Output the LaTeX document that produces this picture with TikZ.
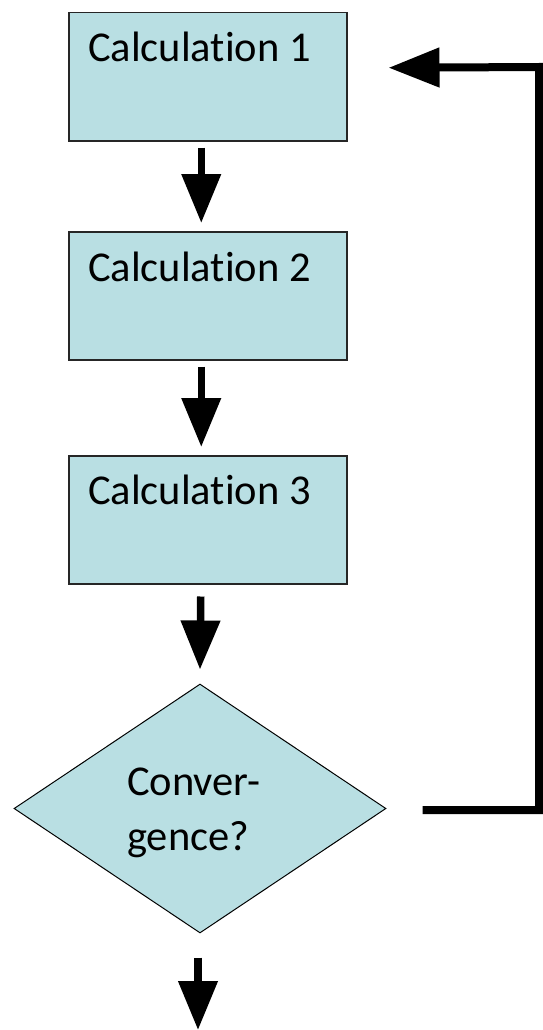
\documentclass[tikz,border=0pt]{standalone}
\usepackage{fontspec}
\setmainfont{Carlito}[Ligatures={NoCommon}]
\usetikzlibrary{shapes.geometric,arrows.meta}
\definecolor{boxfill}{HTML}{B9DFE3}
\begin{document}
\begin{tikzpicture}[x=1pt,y=-1pt,
  calcbox/.style={draw=black!85,line width=1.5pt,fill=boxfill,minimum width=278pt,minimum height=128pt,inner sep=0pt,anchor=north west},
  decide/.style={draw=black,line width=1pt,fill=boxfill,diamond,minimum width=372pt,minimum height=249pt,inner sep=0pt,aspect=1.49},
  lbl/.style={anchor=base west,inner sep=0pt,font=\fontsize{42.5}{55}\selectfont,align=left},
  arr/.style={line width=7.5pt,-{Triangle[length=49pt,width=38pt]}},
  fb/.style={line width=8pt,line join=miter,-{Triangle[length=51pt,width=38pt]}}]
\useasboundingbox (0,0) rectangle (543,1030);
\node[calcbox] (b1) at (68,12) {};
\node[calcbox] (b2) at (68,231) {};
\node[calcbox] (b3) at (68,455) {};
\node[decide] (d) at (200,808.5) {};
\node[lbl] (t1) at (88,62) {Calculation 1};
\node[lbl] (t2) at (88,281) {Calculation 2};
\node[lbl] (t3) at (88,504) {Calculation 3};
\node[lbl] (t4) at (127,850) {Conver-\\gence?};
\coordinate (out) at (198,1030);
\coordinate (c1) at (539,810);
\coordinate (c2) at (539,67);
\draw[arr] ([xshift=-6.5pt,yshift=-6pt]b1.south) -- ([xshift=-6.5pt,yshift=8pt]b2.north);
\draw[arr] ([xshift=-6.5pt,yshift=-6pt]b2.south) -- ([xshift=-6.5pt,yshift=8pt]b3.north);
\draw[arr] ([xshift=-7pt,yshift=-12pt]b3.south) -- ([yshift=14pt]d.north);
\draw[arr] ([xshift=-2pt,yshift=-24pt]d.south) -- (out);
\draw[fb] ([xshift=36pt,yshift=-1.5pt]d.east) -- (c1) -- (c2) -- ([xshift=41pt,yshift=9pt]b1.east);
\end{tikzpicture}
\end{document}
